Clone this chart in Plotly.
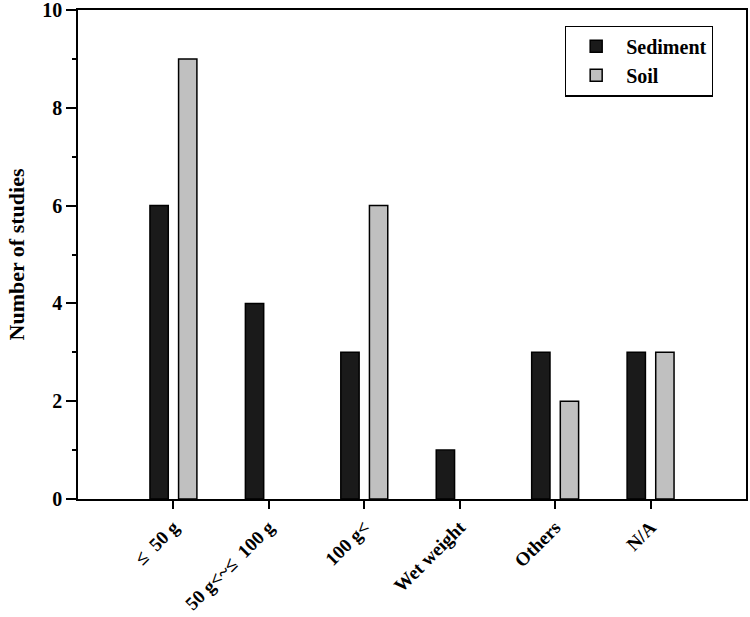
import plotly.graph_objects as go

categories = ["≤  50 g", "50 g<~≤  100 g", "100 g<", "Wet weight", "Others", "N/A"]
sediment = [6, 4, 3, 1, 3, 3]
soil = [9, 0, 6, 0, 2, 3]

font_family = "Liberation Serif, Times New Roman, serif"


def outline_widths(values):
    return [1.5 if v > 0 else 0 for v in values]


fig = go.Figure()
fig.add_trace(go.Bar(name="<b>Sediment</b>", x=categories, y=sediment,
                     marker=dict(color="#1a1a1a",
                                 line=dict(color="black", width=outline_widths(sediment)))))
fig.add_trace(go.Bar(name="<b>Soil</b>", x=categories, y=soil,
                     marker=dict(color="#c0c0c0",
                                 line=dict(color="black", width=outline_widths(soil)))))

fig.update_layout(
    width=750, height=617,
    margin=dict(l=78, r=4, t=10, b=118, autoexpand=False),
    paper_bgcolor="white", plot_bgcolor="white",
    barmode="group", bargap=0.4, bargroupgap=0.36,
    font=dict(family=font_family, color="black"),
    showlegend=True,
    legend=dict(x=0.729, y=0.968, xanchor="left", yanchor="top",
                bordercolor="black", borderwidth=1.2, bgcolor="white",
                font=dict(size=20, family=font_family),
                itemwidth=50, tracegroupgap=4),
)
fig.update_xaxes(
    type="category", range=[-1, 6], automargin=False,
    tickangle=-45, tickfont=dict(size=19, family=font_family, weight="bold"),
    ticks="outside", ticklen=8, tickcolor="black", tickwidth=1.5,
    showline=True, linecolor="black", linewidth=1.5, mirror=True,
    showgrid=False, ticklabeloverflow="allow",
)
fig.update_yaxes(
    range=[0, 10], tickvals=[0, 2, 4, 6, 8, 10], automargin=False,
    tickfont=dict(size=20, family=font_family, weight="bold"),
    ticks="outside", ticklen=10, tickcolor="black", tickwidth=1.5,
    minor=dict(tickvals=[1, 3, 5, 7, 9], ticks="outside", ticklen=4, tickcolor="black", tickwidth=1.5),
    showline=True, linecolor="black", linewidth=1.5, mirror=True,
    showgrid=False, zeroline=False, ticklabeloverflow="allow",
    title=dict(text="<b>Number of studies</b>", font=dict(size=22, family=font_family), standoff=12),
)

fig.write_html("out.html", config={"displayModeBar": False},
               post_script="document.body.style.margin='0';document.body.style.overflow='hidden';")
